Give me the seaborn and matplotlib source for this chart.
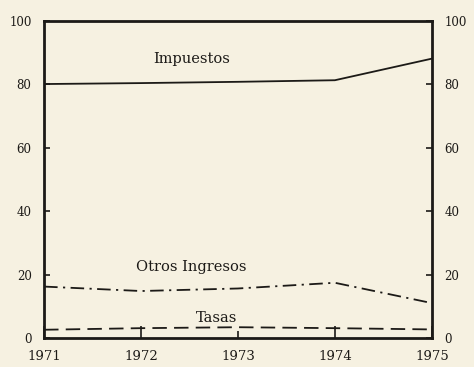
import matplotlib
matplotlib.use("Agg")
import matplotlib.pyplot as plt
import seaborn as sns
import pandas as pd

# Revenue composition, percent of total
years = [1971, 1972, 1973, 1974, 1975]
impuestos = [80.0, 80.3, 80.7, 81.2, 88.0]
otros_ingresos = [16.2, 14.8, 15.6, 17.4, 11.0]
tasas = [2.6, 3.1, 3.4, 3.1, 2.7]

series_names = ["Impuestos", "Otros Ingresos", "Tasas"]
y_ticks = [0, 20, 40, 60, 80, 100]

df = pd.DataFrame({
    "year": years * 3,
    "value": impuestos + otros_ingresos + tasas,
    "serie": [series_names[0]] * 5 + [series_names[1]] * 5 + [series_names[2]] * 5,
})

sns.set_theme(style="white")
plt.rcParams["font.family"] = ["DejaVu Serif"]

paper = "#f6f1e1"
ink = "#1c1a17"

fig = plt.figure(figsize=(4.74, 3.67), dpi=100, facecolor=paper)
ax = fig.add_axes([0.093, 0.079, 0.818, 0.865], facecolor=paper)

styles = {
    "Impuestos": "-",
    "Otros Ingresos": (0, (7.5, 3.0, 1.2, 3.0)),
    "Tasas": (0, (8.0, 4.0)),
}
for name in series_names:
    sns.lineplot(data=df[df["serie"] == name], x="year", y="value", ax=ax,
                 color=ink, linewidth=1.3, linestyle=styles[name],
                 legend=False)

ax.set_xlim(1971, 1975)
ax.set_ylim(0, 100)
ax.set_xlabel("")
ax.set_ylabel("")

ax.set_xticks(years)
ax.set_xticklabels([str(y) for y in years], fontsize=9.5, color=ink)
ax.set_yticks(y_ticks)
ax.set_yticklabels([str(t) for t in y_ticks], fontsize=8.5, color=ink)

ax.tick_params(axis="y", which="both", direction="in", length=4, width=1.2,
               color=ink, left=True, right=True, labelleft=True,
               labelright=True, pad=9)
ax.tick_params(axis="x", direction="in", length=9, width=1.2, color=ink,
               bottom=True, top=False, pad=8.5)
ticks = ax.xaxis.get_major_ticks()
ticks[2].tick1line.set_markersize(5)

for side in ["left", "right", "top", "bottom"]:
    ax.spines[side].set_visible(True)
    ax.spines[side].set_color(ink)
    ax.spines[side].set_linewidth(2.0)

label_kw = dict(fontsize=10.5, color=ink, ha="center", va="center")
ax.text(1972.52, 88.0, "Impuestos", **label_kw)
ax.text(1972.52, 22.4, "Otros Ingresos", **label_kw)
ax.text(1972.78, 6.3, "Tasas", **label_kw)

fig.savefig("out.png", dpi=100, facecolor=paper)
